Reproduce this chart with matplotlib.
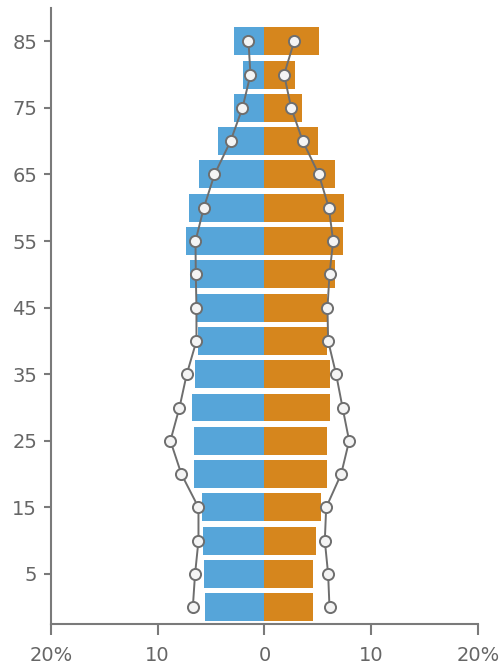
import matplotlib.pyplot as plt
import numpy as np

# age groups (lower bound of each 5-year band)
ages = [0, 5, 10, 15, 20, 25, 30, 35, 40, 45, 50, 55, 60, 65, 70, 75, 80, 85]

# bar values, % of population (left side shown as negative)
left_bars = [5.53, 5.62, 5.71, 5.81, 6.56, 6.56, 6.74, 6.46, 6.25, 6.34,
             6.93, 7.31, 7.03, 6.09, 4.37, 2.90, 1.97, 2.81]
right_bars = [4.50, 4.59, 4.78, 5.25, 5.90, 5.81, 6.09, 6.09, 5.81, 5.90,
              6.65, 7.40, 7.49, 6.65, 4.97, 3.47, 2.90, 5.06]

# comparison points
left_pts = [6.71, 6.50, 6.18, 6.18, 7.78, 8.81, 7.96, 7.28, 6.37, 6.37,
            6.43, 6.46, 5.68, 4.68, 3.18, 2.06, 1.31, 1.50]
right_pts = [6.09, 5.96, 5.65, 5.78, 7.18, 7.93, 7.31, 6.71, 5.96, 5.90,
             6.09, 6.43, 6.03, 5.09, 3.59, 2.50, 1.84, 2.78]

ytick_vals = [5, 15, 25, 35, 45, 55, 65, 75, 85]
xtick_vals = [-20, -10, 0, 10, 20]
xtick_labels = ['20%', '10', '0', '10', '20%']

blue = '#56a5d9'
orange = '#d6861d'
grey = '#6e6e6e'

fig = plt.figure(figsize=(4.99, 6.68), dpi=100)
ax = fig.add_axes([0.102, 0.066, 0.856, 0.922])

ax.barh(ages, -np.array(left_bars), height=4.2, color=blue, zorder=2)
ax.barh(ages, right_bars, height=4.2, color=orange, zorder=2)

ax.plot(-np.array(left_pts), ages, color=grey, lw=1.4, marker='o', ms=8,
        mfc='#f4f4f4', mec=grey, mew=1.4, zorder=3)
ax.plot(right_pts, ages, color=grey, lw=1.4, marker='o', ms=8,
        mfc='#f4f4f4', mec=grey, mew=1.4, zorder=3)

ax.set_xlim(-20, 20)
ax.set_ylim(-2.5, 90)
ax.set_xticks(xtick_vals)
ax.set_xticklabels(xtick_labels)
ax.set_yticks(ytick_vals)
ax.set_yticklabels([str(v) for v in ytick_vals])

for s in ['top', 'right']:
    ax.spines[s].set_visible(False)
for s in ['left', 'bottom']:
    ax.spines[s].set_color('#7a7a7a')
    ax.spines[s].set_linewidth(1.5)

ax.tick_params(axis='x', length=8, width=1.5, color='#7a7a7a', labelcolor='#666666',
               labelsize=14, pad=8)
ax.tick_params(axis='y', length=5, width=1.5, color='#7a7a7a', labelcolor='#666666',
               labelsize=14, pad=5)

fig.savefig('out.png', dpi=100)
